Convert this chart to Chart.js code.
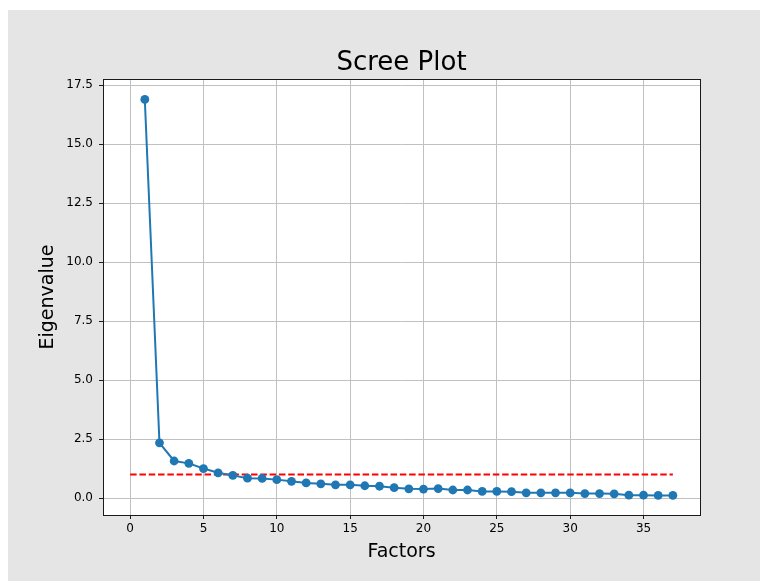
<!DOCTYPE html>
<html>
<head>
<meta charset="utf-8">
<title>Scree Plot</title>
<script src="https://cdn.jsdelivr.net/npm/chart.js@4.4.1/dist/chart.umd.min.js"></script>
<style>
    html, body { margin: 0; padding: 0; background: #ffffff; }
    #chartWrap { width: 768px; height: 583px; }
</style>
</head>
<body>
<div id="chartWrap"><canvas id="screeChart" width="768" height="583"></canvas></div>
<script>
`use strict`;

// 데이터
const factors = [1, 2, 3, 4, 5, 6, 7, 8, 9, 10, 11, 12, 13, 14, 15, 16, 17, 18, 19, 20,
    21, 22, 23, 24, 25, 26, 27, 28, 29, 30, 31, 32, 33, 34, 35, 36, 37];
const eigenvalues = [16.9, 2.34, 1.57, 1.47, 1.25, 1.07, 0.96, 0.84, 0.83, 0.78,
    0.71, 0.64, 0.60, 0.56, 0.56, 0.52, 0.50, 0.44, 0.39, 0.38,
    0.40, 0.34, 0.34, 0.28, 0.28, 0.27, 0.22, 0.22, 0.22, 0.22,
    0.19, 0.19, 0.18, 0.12, 0.12, 0.11, 0.11];
const kaiserX = [0, 37];
const kaiserY = [1, 1];
const xTicks = [0, 5, 10, 15, 20, 25, 30, 35];
const yTicks = [0, 2.5, 5, 7.5, 10, 12.5, 15, 17.5];

const FONT = `'DejaVu Sans', 'Liberation Sans', sans-serif`;

// 회색 배경 + 흰색 플롯 영역 + 테두리
const figurePlugin = {
    id: `figureFrame`,
    beforeDraw(chart) {
        const ctx = chart.ctx;
        const a = chart.chartArea;
        ctx.save();
        ctx.fillStyle = `#ffffff`;
        ctx.fillRect(0, 0, chart.width, chart.height);
        ctx.fillStyle = `#e5e5e5`;
        ctx.fillRect(8, 10, 752, 571);
        ctx.fillStyle = `#ffffff`;
        ctx.fillRect(a.left, a.top, a.right - a.left, a.bottom - a.top);
        ctx.restore();
    },
    afterDraw(chart) {
        const ctx = chart.ctx;
        const a = chart.chartArea;
        ctx.save();
        ctx.strokeStyle = `#1a1a1a`;
        ctx.lineWidth = 1;
        ctx.strokeRect(Math.round(a.left) + 0.5, Math.round(a.top) + 0.5,
            Math.round(a.right - a.left), Math.round(a.bottom - a.top));
        ctx.restore();
    }
};

const UTIL = {
    _INIT: function(selectorName) {
        const ctx = document.getElementById(selectorName);

        new Chart(ctx, {
            type: `scatter`,
            data: {
                datasets: [{
                    label: `Eigenvalue`,
                    data: factors.map((f, i) => ({ x: f, y: eigenvalues[i] })),
                    showLine: true,
                    borderColor: `#1f77b4`,
                    backgroundColor: `#1f77b4`,
                    borderWidth: 2,
                    pointRadius: 4.4,
                    pointBorderWidth: 0,
                    pointBackgroundColor: `#1f77b4`
                },
                {
                    label: `Kaiser`,
                    data: kaiserX.map((x, i) => ({ x: x, y: kaiserY[i] })),
                    showLine: true,
                    borderColor: `#ff0000`,
                    borderWidth: 2,
                    borderDash: [6.5, 2.8],
                    pointRadius: 0
                }]
            },
            options: {
                responsive: false,
                animation: false,
                devicePixelRatio: 1,
                layout: {
                    padding: { left: 0, right: 68, top: 0, bottom: 0 }
                },
                scales: {
                    x: {
                        type: `linear`,
                        min: -1.85,
                        max: 38.85,
                        afterBuildTicks: (scale) => { scale.ticks = xTicks.map(v => ({ value: v })); },
                        afterFit: (scale) => { scale.height = 68; },
                        grid: { color: `#c0c0c0`, lineWidth: 1, tickColor: `#1a1a1a`, tickLength: 4 },
                        border: { display: false },
                        ticks: { color: `#000000`, padding: 3, maxRotation: 0, font: { family: FONT, size: 12 } },
                        title: {
                            display: true,
                            text: `Factors`,
                            color: `#000000`,
                            font: { family: FONT, size: 19 },
                            padding: { top: 0, bottom: 20 }
                        }
                    },
                    y: {
                        type: `linear`,
                        min: -0.72,
                        max: 17.76,
                        afterBuildTicks: (scale) => { scale.ticks = yTicks.map(v => ({ value: v })); },
                        afterFit: (scale) => { scale.width = 103; },
                        grid: { color: `#c0c0c0`, lineWidth: 1, tickColor: `#1a1a1a`, tickLength: 4 },
                        border: { display: false },
                        ticks: {
                            color: `#000000`,
                            padding: 6,
                            font: { family: FONT, size: 12 },
                            callback: (v) => Number(v).toFixed(1)
                        },
                        title: {
                            display: true,
                            text: `Eigenvalue`,
                            color: `#000000`,
                            font: { family: FONT, size: 19 },
                            padding: { top: 37, bottom: 0 }
                        }
                    }
                },
                plugins: {
                    legend: { display: false },
                    tooltip: { enabled: false },
                    title: {
                        display: true,
                        fullSize: false,   // 플롯 영역 기준으로 가운데 정렬
                        text: `Scree Plot`,
                        color: `#000000`,
                        font: { family: FONT, size: 26, weight: `normal` },
                        padding: { top: 48, bottom: 0 }
                    }
                }
            },
            plugins: [figurePlugin]
        });
    },
    _RUN: function(selectorName) {
        UTIL._INIT(selectorName);
    }
};

UTIL._RUN(`screeChart`);
</script>
</body>
</html>
